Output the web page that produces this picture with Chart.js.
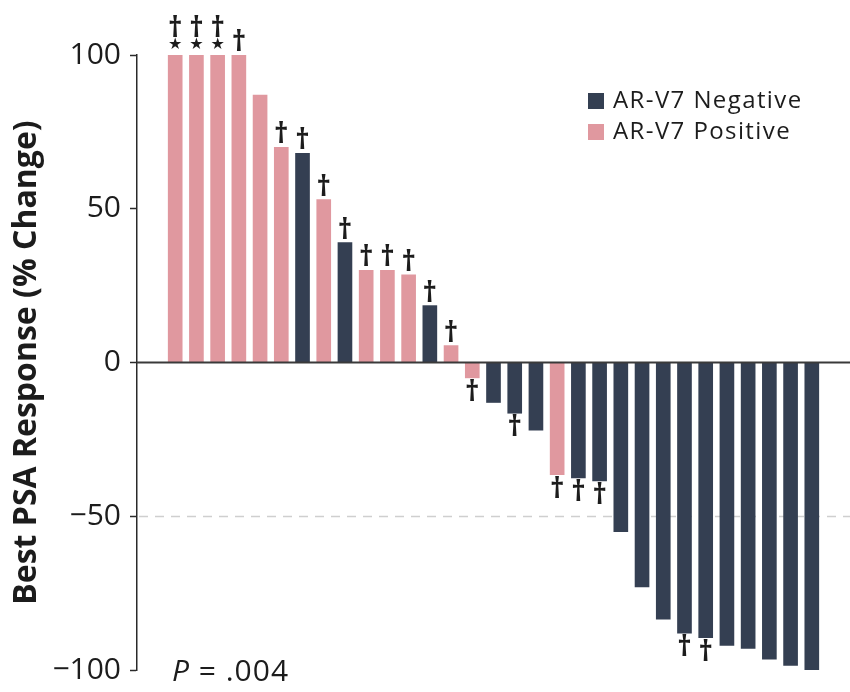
<!DOCTYPE html>
<html>
<head>
<meta charset="utf-8">
<script src="https://cdn.jsdelivr.net/npm/chart.js@4.4.1/dist/chart.umd.min.js"></script>
<style>
  html, body { margin: 0; padding: 0; background: #fff; }
  #wrap { width: 850px; height: 692px; position: relative; }
</style>
</head>
<body>
<div id="wrap"><canvas id="psaChart"></canvas></div>
<script>
// Best PSA response per patient, sorted (values in % change)
const psaValues = [100, 100, 100, 100, 87, 70, 68, 53, 39, 30, 30, 28.5, 18.5, 5.5, -5,
                   -13, -16.5, -22, -36.5, -37.5, -38.5, -55, -73, -83.5, -88, -89.5,
                   -92, -93, -96.5, -98.5, -100];
// 1 = AR-V7 positive, 0 = AR-V7 negative
const arv7Status = [1, 1, 1, 1, 1, 1, 0, 1, 0, 1, 1, 1, 0, 1, 1,
                    0, 0, 0, 1, 0, 0, 0, 0, 0, 0, 0,
                    0, 0, 0, 0, 0];
// dagger / star markers
const daggerMarks = [1, 1, 1, 1, 0, 1, 1, 1, 1, 1, 1, 1, 1, 1, 1,
                     0, 1, 0, 1, 1, 1, 0, 0, 0, 1, 1,
                     0, 0, 0, 0, 0];
const starMarks = [1, 1, 1, 0, 0, 0, 0, 0, 0, 0, 0, 0, 0, 0, 0,
                   0, 0, 0, 0, 0, 0, 0, 0, 0, 0, 0,
                   0, 0, 0, 0, 0];
const yTicks = [100, 50, 0, -50, -100];
const seriesLabels = ['AR-V7 Negative', 'AR-V7 Positive'];
const seriesColors = ['#343f52', '#e0989f'];
const pValueText = '.004';

const textColor = '#1c1c1c';
const fontFamily = '"Open Sans", "Noto Sans", sans-serif';

const pointsFor = status => psaValues
  .map((v, i) => ({ x: i, y: v }))
  .filter((p, i) => arv7Status[i] === status);

// markers, reference lines, legend, p value
const annotations = {
  id: 'annotations',
  beforeDatasetsDraw(chart) {
    const { ctx, chartArea, scales: { y } } = chart;
    ctx.save();
    // -50 dashed reference
    ctx.strokeStyle = '#cfcfcf';
    ctx.lineWidth = 1.5;
    ctx.setLineDash([9, 7]);
    const y50 = Math.round(y.getPixelForValue(-50)) + 0.5;
    ctx.beginPath();
    ctx.moveTo(chartArea.left + 2, y50);
    ctx.lineTo(chartArea.right, y50);
    ctx.stroke();
    ctx.restore();
  },
  afterDatasetsDraw(chart) {
    const { ctx, chartArea, scales: { x, y } } = chart;
    ctx.save();
    // zero line
    ctx.strokeStyle = '#3a3a3a';
    ctx.lineWidth = 2;
    const y0 = y.getPixelForValue(0);
    ctx.beginPath();
    ctx.moveTo(chartArea.left, y0);
    ctx.lineTo(chartArea.right, y0);
    ctx.stroke();

    // daggers and stars
    ctx.fillStyle = textColor;
    ctx.textAlign = 'center';
    psaValues.forEach((v, i) => {
      const px = x.getPixelForValue(i);
      const py = y.getPixelForValue(v);
      if (v >= 0) {
        let base = py - 7;
        if (starMarks[i]) {
          ctx.font = '16px "DejaVu Sans"';
          ctx.textBaseline = 'alphabetic';
          ctx.fillText('\u2605', px, base + 1);
          base -= 14;
        }
        if (daggerMarks[i]) {
          ctx.font = 'bold 28px ' + fontFamily;
          ctx.textBaseline = 'alphabetic';
          ctx.fillText('\u2020', px, base + 3);
        }
      } else if (daggerMarks[i]) {
        ctx.font = 'bold 28px ' + fontFamily;
        ctx.textBaseline = 'top';
        ctx.fillText('\u2020', px, py + 1);
      }
    });

    // legend
    ctx.textAlign = 'left';
    ctx.textBaseline = 'middle';
    ctx.font = '24px ' + fontFamily;
    ctx.letterSpacing = '1.4px';
    seriesLabels.forEach((label, k) => {
      const ly = 101 + k * 31;
      ctx.fillStyle = seriesColors[k];
      ctx.fillRect(588, ly - 8, 16, 16);
      ctx.fillStyle = textColor;
      ctx.fillText(label, 613, ly);
    });

    // p value
    ctx.textBaseline = 'alphabetic';
    ctx.letterSpacing = '1px';
    ctx.font = 'italic 30px ' + fontFamily;
    ctx.fillText('P', 172, 681);
    const pw = ctx.measureText('P').width;
    ctx.font = '30px ' + fontFamily;
    ctx.fillText(' = ' + pValueText, 172 + pw, 681);
    ctx.restore();
  }
};

new Chart(document.getElementById('psaChart'), {
  type: 'bar',
  data: {
    datasets: [
      { label: seriesLabels[0], data: pointsFor(0), backgroundColor: seriesColors[0],
        barThickness: 14, grouped: false },
      { label: seriesLabels[1], data: pointsFor(1), backgroundColor: seriesColors[1],
        barThickness: 14, grouped: false }
    ]
  },
  options: {
    responsive: true,
    maintainAspectRatio: false,
    animation: false,
    layout: { padding: { top: 55, bottom: 22, left: 0, right: 0 } },
    plugins: { legend: { display: false }, tooltip: { enabled: false } },
    scales: {
      x: { type: 'linear', min: -1.8, max: 31.8, offset: false, display: false },
      y: {
        min: -100,
        max: 100,
        afterBuildTicks: scale => { scale.ticks = yTicks.map(v => ({ value: v })); },
        afterFit: scale => { scale.width = 137; },
        ticks: {
          color: textColor,
          padding: 9,
          font: { family: fontFamily, size: 30, lineHeight: 0.8 },
          callback: v => (v < 0 ? '\u2212' + Math.abs(v) : String(v))
        },
        grid: { drawOnChartArea: false, drawTicks: true, tickLength: 7,
                tickColor: '#2a2a2a', tickWidth: 1.5 },
        border: { color: '#2a2a2a', width: 1.5 },
        title: {
          display: true,
          text: 'Best PSA Response (% Change)',
          color: textColor,
          font: { family: fontFamily, size: 32, weight: 'bold' },
          padding: { top: 8, bottom: 0 }
        }
      }
    }
  },
  plugins: [annotations]
});
</script>
</body>
</html>
